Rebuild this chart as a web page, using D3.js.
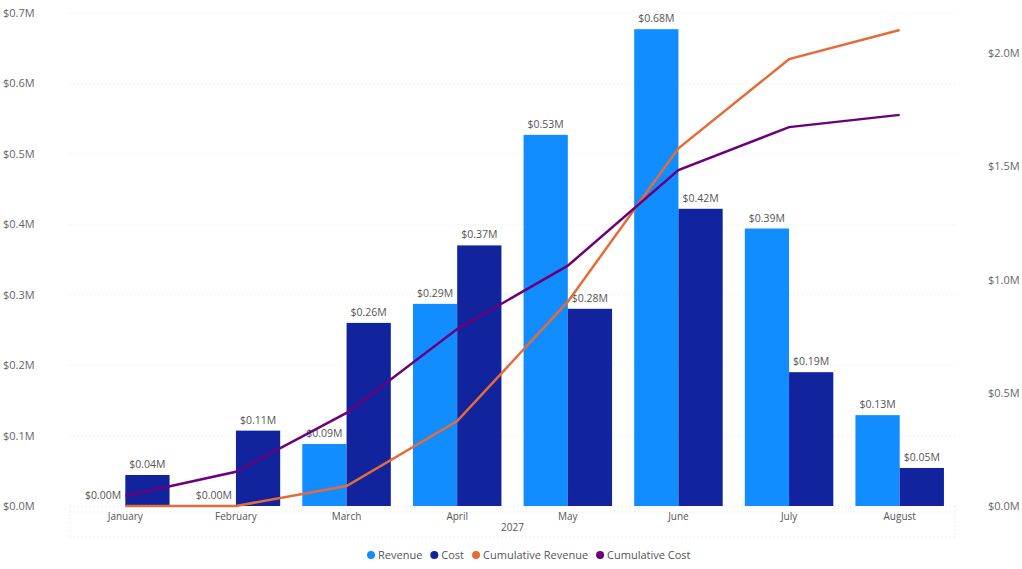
<!DOCTYPE html><html><head><meta charset="utf-8">
<script src="https://cdn.jsdelivr.net/npm/d3@7/dist/d3.min.js"></script>
<style>body{margin:0;background:#fff;font-family:"Segoe UI","Open Sans",sans-serif}</style></head><body>
<svg id="c" width="1022" height="569"></svg>
<script>
const months=["January","February","March","April","May","June","July","August"];
const revenue=[0,0,0.088,0.287,0.527,0.677,0.394,0.129];
const cost=[0.044,0.107,0.26,0.37,0.28,0.422,0.19,0.054];
const cumRevenue=[0,0,0.088,0.375,0.902,1.579,1.973,2.102];
const cumCost=[0.044,0.151,0.411,0.781,1.061,1.483,1.673,1.727];
const leftTicks=[0,0.1,0.2,0.3,0.4,0.5,0.6,0.7];
const rightTicks=[0,0.5,1.0,1.5,2.0];
const C={rev:"#118DFF",cost:"#12239E",crev:"#E66C37",ccost:"#6B007B"};
const svg=d3.select("#c");
const L=70,R=955,T=13,B=506;
const x=d3.scaleBand().domain(months).range([L,R]).paddingInner(0.2).paddingOuter(0.1);
const xs=d3.scaleBand().domain(["r","c"]).range([0,x.bandwidth()]);
const y=d3.scaleLinear().domain([0,0.7]).range([B,T]);
const y2=d3.scaleLinear().domain([0,2.1768]).range([B,T]);
const g=svg.append("g");
g.selectAll(".gl").data(leftTicks).join("line").attr("x1",L).attr("x2",R).attr("y1",d=>y(d)).attr("y2",d=>y(d)).attr("stroke","#e6e6e6").attr("stroke-dasharray","1,3");
const fmt=d=>"$"+d.toFixed(1)+"M";
g.selectAll(".lt").data(leftTicks).join("text").attr("x",3).attr("y",d=>y(d)+4).attr("font-size",11).attr("fill","#666").text(fmt);
g.selectAll(".rt").data(rightTicks).join("text").attr("x",988).attr("y",d=>y2(d)+4).attr("font-size",11).attr("fill","#666").text(fmt);
// x axis frame dotted
g.append("line").attr("x1",L).attr("x2",R).attr("y1",512).attr("y2",512).attr("stroke","#ddd").attr("stroke-dasharray","1,3");
g.append("line").attr("x1",L).attr("x2",R).attr("y1",537).attr("y2",537).attr("stroke","#ddd").attr("stroke-dasharray","1,3");
[L,R].forEach(v=>g.append("line").attr("x1",v).attr("x2",v).attr("y1",506).attr("y2",537).attr("stroke","#ddd").attr("stroke-dasharray","1,3"));
const bars=[["r",revenue,C.rev],["c",cost,C.cost]];
bars.forEach(([k,vals,col])=>{
 g.selectAll(".b"+k).data(months).join("rect").attr("x",m=>x(m)+xs(k)).attr("width",xs.bandwidth())
  .attr("y",(m,i)=>y(vals[i])).attr("height",(m,i)=>B-y(vals[i])).attr("fill",col);
});
bars.forEach(([k,vals])=>{
 g.selectAll(".l"+k).data(months).join("text").attr("x",m=>x(m)+xs(k)+xs.bandwidth()/2).attr("y",(m,i)=>y(vals[i])-7)
  .attr("text-anchor","middle").attr("font-size",10.5).attr("fill","#555").text((m,i)=>"$"+vals[i].toFixed(2)+"M");
});
const cx=m=>x(m)+x.bandwidth()/2;
[[cumRevenue,C.crev],[cumCost,C.ccost]].forEach(([vals,col])=>{
 g.append("path").datum(months).attr("fill","none").attr("stroke",col).attr("stroke-width",2.5)
  .attr("d",d3.line().x(cx).y((m,i)=>y2(vals[i])));
});
g.selectAll(".xt").data(months).join("text").attr("x",cx).attr("y",520).attr("text-anchor","middle").attr("font-size",10).attr("fill","#555").text(d=>d);
g.append("text").attr("x",(L+R)/2).attr("y",531).attr("text-anchor","middle").attr("font-size",10).attr("fill","#555").text("2027");
const leg=[["Revenue",C.rev],["Cost",C.cost],["Cumulative Revenue",C.crev],["Cumulative Cost",C.ccost]];
let lx=367;
leg.forEach(([t,c])=>{
 g.append("circle").attr("cx",lx+4).attr("cy",555).attr("r",4).attr("fill",c);
 const tx=g.append("text").attr("x",lx+11).attr("y",559).attr("font-size",11).attr("fill","#555").text(t);
 lx+=11+tx.node().getComputedTextLength()+8;
});
</script></body></html>
